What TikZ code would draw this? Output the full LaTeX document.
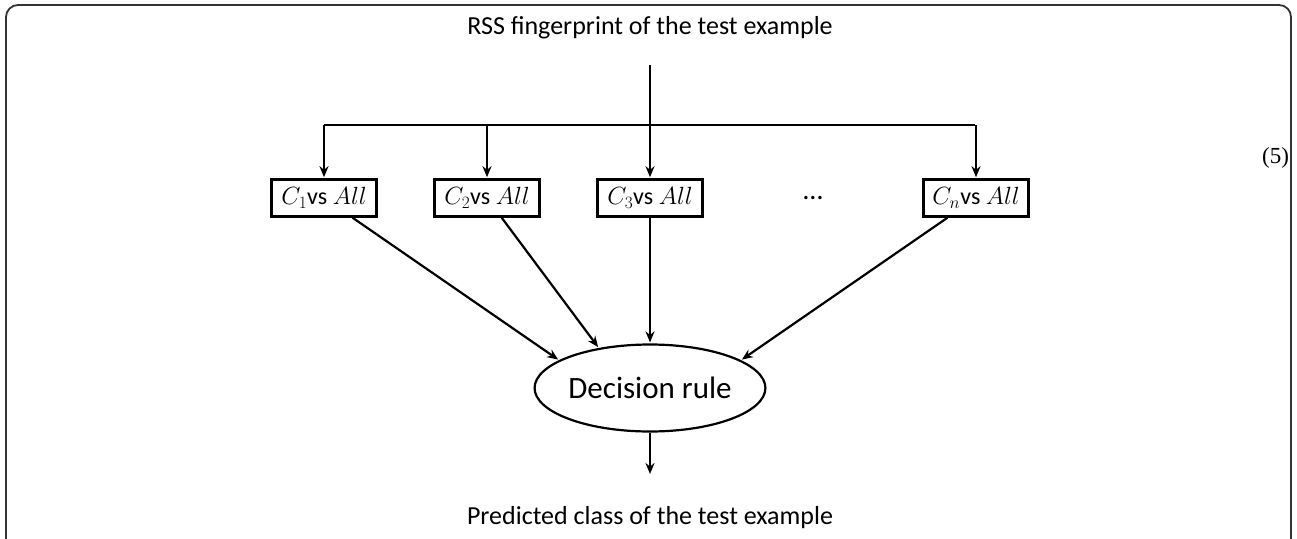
\documentclass[tikz,border=0pt]{standalone}
\usepackage{fontspec}
\newfontfamily\calibri{Carlito}
\newfontfamily\eqfont{Liberation Serif}
\usetikzlibrary{arrows.meta,positioning,shapes.geometric}

\begin{document}
\begin{tikzpicture}[x=1pt,y=-1pt,>={Stealth[length=11pt,width=9pt]},shorten >=1pt,line width=2.2pt,node distance=163pt,
	every node/.style={font=\calibri},
	clsbox/.style={draw,line width=2.6pt,minimum width=105pt,minimum height=37pt,inner sep=2pt,font=\calibri\fontsize{24}{27}\selectfont},
	rulebox/.style={ellipse,draw,line width=2.2pt,minimum width=230pt,minimum height=87pt,inner sep=0pt,font=\calibri\fontsize{31}{34}\selectfont},
	caption/.style={font=\calibri\fontsize{26}{30}\selectfont}]

\useasboundingbox (0,0) rectangle (1297,538);
\draw[line width=1.8pt,black!80,rounded corners=12pt] (6,5) rectangle (1291,590);

\node[caption] (fp) at (650,28) {RSS fingerprint of the test example};
\node[caption] (pred) at (650,518) {Predicted class of the test example};
\node[font=\eqfont\fontsize{23}{26}\selectfont,inner sep=0pt,anchor=east] (eq) at (1290,158) {(5)};

	\node[clsbox]   (c1) at (324,198)      {$C_1$vs $All$};
 \node[clsbox] 	  (c2) [right of=c1]  	{$C_2$vs $All$};
	\node[clsbox]   (c3) [right of=c2]    {$C_3$vs $All$};
	\node[font=\calibri\fontsize{28}{30}\selectfont] (dots) [right of=c3] {\dots};
	\node[clsbox] 	  (cn) [right of=dots]  	{$C_n$vs $All$};
	\node[rulebox,node distance=190pt] (rule) [below of=c3] {Decision rule};

\coordinate (src) at (650,65);
\coordinate (bus) at (650,125);
\coordinate (out) at (650,475);

\draw (c1 |- bus) -- (cn |- bus);
	\path[->] (src) edge (c3)
					(c1 |- bus) edge (c1)
					(c2 |- bus) edge (c2)
					(cn |- bus) edge (cn)

        (c1) edge (rule.163)
        (c2) edge (rule.142)
        (c3) edge (rule)
        (cn) edge (rule.17)
        (rule) edge (out);

\end{tikzpicture}
\end{document}
